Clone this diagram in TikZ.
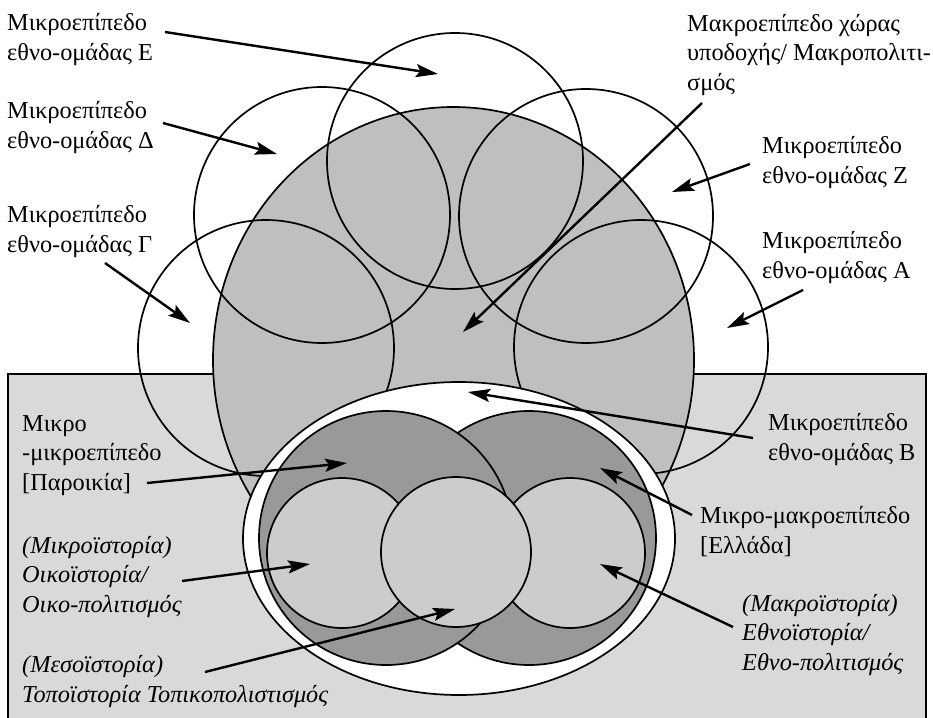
\documentclass[tikz,border=0pt]{standalone}
\usepackage{fontspec}
\setmainfont{Liberation Serif}
\usetikzlibrary{arrows.meta}
\definecolor{bgrect}{gray}{0.85}
\definecolor{macrogray}{gray}{0.75}
\definecolor{darkgray2}{gray}{0.60}
\definecolor{lightgray2}{gray}{0.80}
\tikzset{
  ring/.style={draw=black, line width=1.7pt},
  arr/.style={line width=2.4pt, -{Stealth[length=22pt,width=13pt,inset=4pt]}},
  lbl/.style={anchor=base west, inner sep=0pt, align=left, font=\fontsize{24.3}{29.3}\selectfont},
  ilbl/.style={lbl, font=\fontsize{24.3}{29.3}\selectfont\itshape}
}
\begin{document}
\begin{tikzpicture}[x=1pt,y=-1pt]
\useasboundingbox (0,0) rectangle (933,717);
% background rectangle (lower part)
\fill[bgrect] (8,374) rectangle (926,722);
\draw[line width=1.7pt] (8,722) -- (8,374) -- (926,374) -- (926,722);
% macro level ellipse
\draw[ring, fill=macrogray] (453.5,360) ellipse [x radius=240.5pt, y radius=253pt];
% ethnic group circles
\draw[ring] (455,161) circle (128pt);
\draw[ring] (322,215) circle (128pt);
\draw[ring] (586,216) circle (127pt);
\draw[ring] (266,348) circle (128pt);
\draw[ring] (641,347) circle (127pt);
% white ellipse (group B)
\draw[ring, fill=white] (459,538.5) ellipse [x radius=216pt, y radius=156.5pt];
% dark circles
\draw[ring, fill=darkgray2] (529,538) circle (127pt);
\draw[ring, fill=darkgray2] (386,538) circle (127pt);
% light circles
\draw[ring, fill=lightgray2] (342,553) circle (75pt);
\draw[ring, fill=lightgray2] (570,553) circle (75pt);
\draw[ring, fill=lightgray2] (456,552) circle (75pt);
% labels (anchored at the baseline of their last line)
\node[lbl] (lE) at (7,60) {Μικροεπίπεδο\\εθνο-ομάδας Ε};
\node[lbl] (lD) at (7,148) {Μικροεπίπεδο\\εθνο-ομάδας Δ};
\node[lbl] (lG) at (7,252) {Μικροεπίπεδο\\εθνο-ομάδας Γ};
\node[lbl] (lM) at (687,90) {Μακροεπίπεδο χώρας\\υποδοχής/ Μακροπολιτι-\\σμός};
\node[lbl] (lZ) at (762,183) {Μικροεπίπεδο\\εθνο-ομάδας Ζ};
\node[lbl] (lA) at (762,278) {Μικροεπίπεδο\\εθνο-ομάδας Α};
\node[lbl] (lB) at (768,460) {Μικροεπίπεδο\\εθνο-ομάδας Β};
\node[lbl] (lP) at (22,490) {Μικρο\\-μικροεπίπεδο\\{[}Παροικία{]}};
\node[lbl] (lH) at (700,553) {Μικρο-μακροεπίπεδο\\{[}Ελλάδα{]}};
\node[ilbl] (lO) at (22,612) {(Μικροϊστορία)\\Οικοϊστορία/\\Οικο-πολιτισμός};
\node[ilbl] (lT) at (22,702) {(Μεσοϊστορία)\\Τοποϊστορία Τοπικοπολιστισμός};
\node[ilbl] (lN) at (742,670) {(Μακροϊστορία)\\Εθνοϊστορία/\\Εθνο-πολιτισμός};
% arrow end points
\coordinate (tE) at (165,32);   \coordinate (hE) at (438,74);
\coordinate (tD) at (163,123);  \coordinate (hD) at (277,154);
\coordinate (tG) at (105,263);  \coordinate (hG) at (190,323);
\coordinate (tM) at (702,103);  \coordinate (hM) at (463,332);
\coordinate (tZ) at (750,164);  \coordinate (hZ) at (672,192);
\coordinate (tA) at (803,290);  \coordinate (hA) at (727,328);
\coordinate (tB) at (753,438);  \coordinate (hB) at (468,392);
\coordinate (tP) at (147,483);  \coordinate (hP) at (347,463);
\coordinate (tH) at (692,515);  \coordinate (hH) at (600,468);
\coordinate (tO) at (182,581);  \coordinate (hO) at (310,564);
\coordinate (tT) at (205,672);  \coordinate (hT) at (455,609);
\coordinate (tN) at (733,627);  \coordinate (hN) at (600,564);
\foreach \k in {E,D,G,M,Z,A,B,P,H,O,T,N} { \draw[arr] (t\k) -- (h\k); }
\end{tikzpicture}
\end{document}
